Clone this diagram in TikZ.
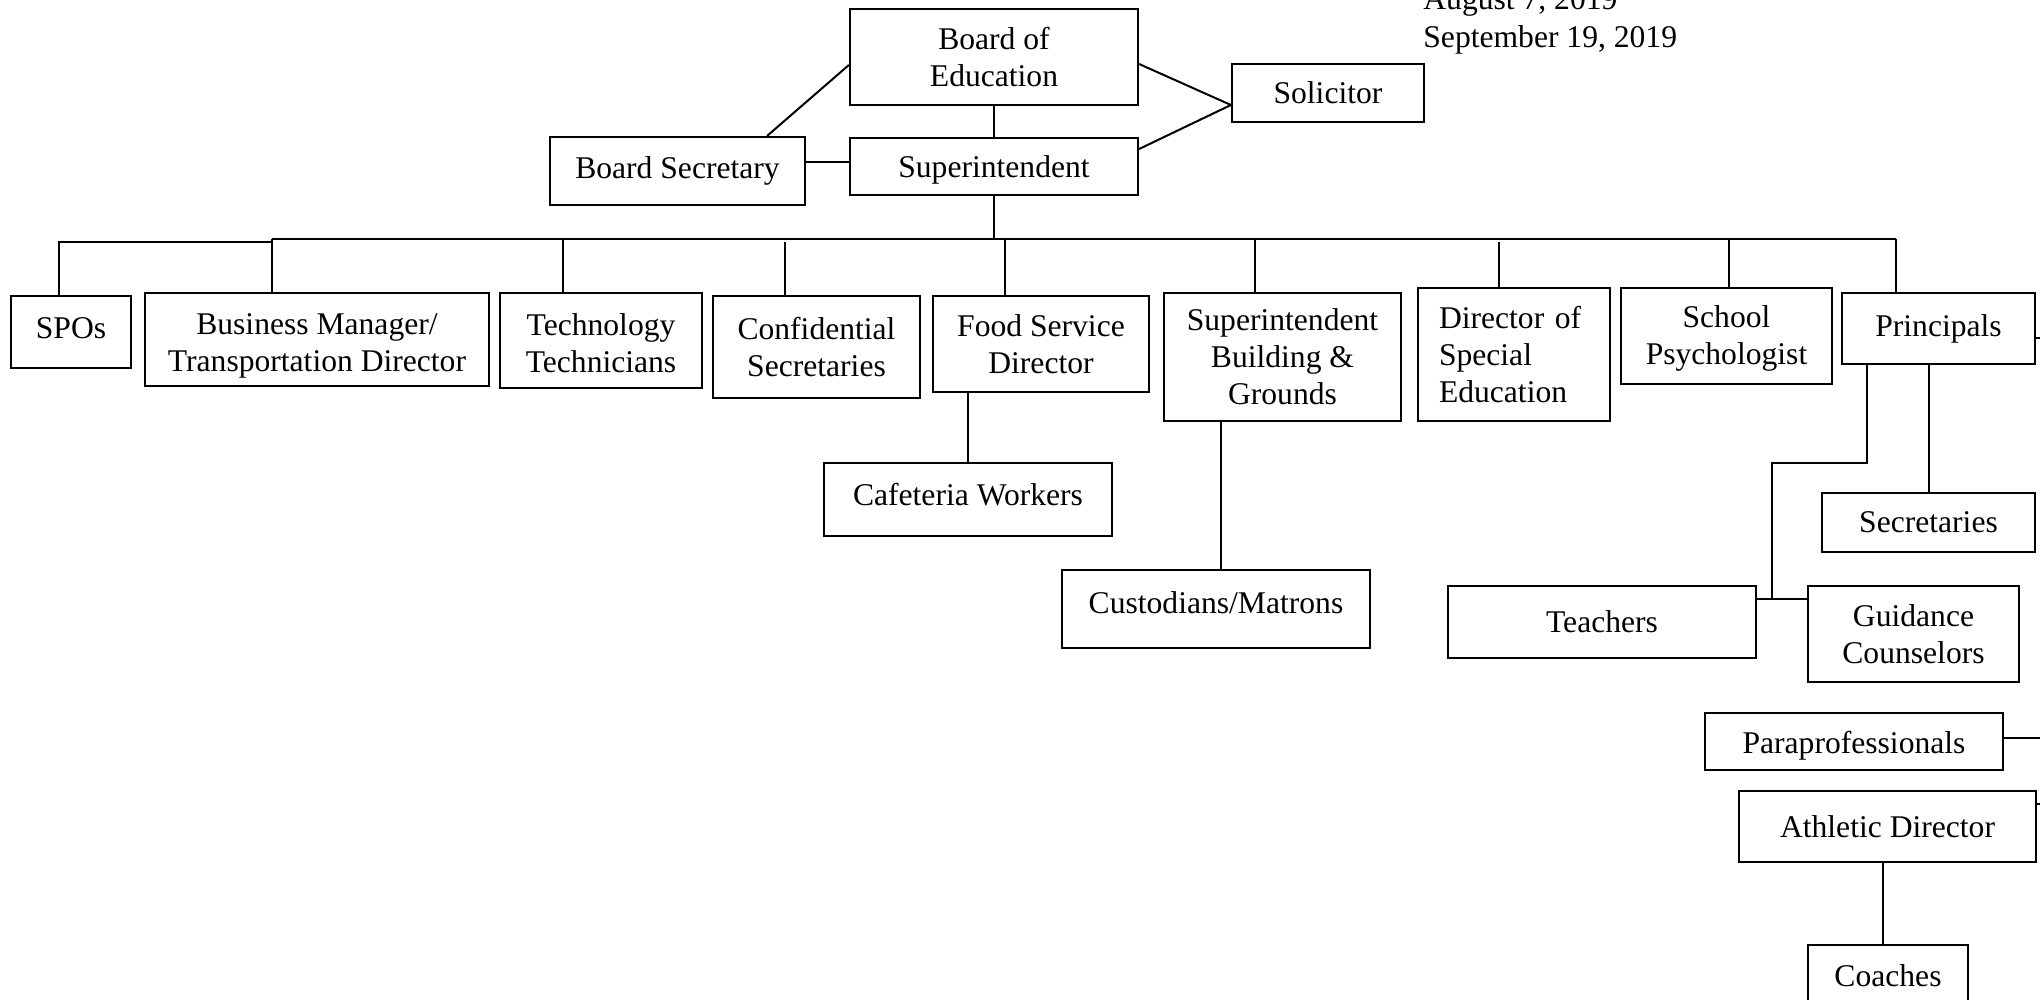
\documentclass[tikz,border=0pt]{standalone}
\usepackage{fontspec}
\setmainfont{Liberation Serif}
\begin{document}
\begin{tikzpicture}[x=0.5pt,y=-0.5pt,
  every node/.style={font=\fontsize{15.8}{18.5}\selectfont},
  box/.style={draw,line width=1.1pt,inner sep=2pt,align=center},
  link/.style={line width=1pt}]
  \useasboundingbox (0,0) rectangle (2040,1000);
  \clip (0,0) rectangle (2040,1000);
  % dates
  \node[anchor=base west,inner sep=0pt] (date1) at (1423,10) {August 7, 2019};
  \node[anchor=base west,inner sep=0pt] (date2) at (1423,48) {September 19, 2019};
  % top
  \node[box,minimum width=144pt,minimum height=48pt] (boe) at (994,57) {Board of\\Education};
  \node[box,minimum width=96pt,minimum height=29pt] (sol) at (1328,93) {Solicitor};
  \node[box,minimum width=127.5pt,minimum height=34pt] (bsec) at (677.5,171) {Board Secretary};
  \node[box,minimum width=144pt,minimum height=28.5pt] (supt) at (994,166.5) {\rule{0pt}{14.7pt}Superintendent};
  % second row
  \node[box,minimum width=60pt,minimum height=36pt] (spo) at (71,332) {\rule[-3.9pt]{0pt}{3.9pt}SPOs};
  \node[box,minimum width=172pt,minimum height=46.5pt] (bus) at (317,339.5) {\rule{0pt}{17pt}Business Manager/\\Transportation Director};
  \node[box,minimum width=101pt,minimum height=47.5pt] (tech) at (601,340.5) {\rule{0pt}{13.3pt}Technology\\Technicians};
  \node[box,minimum width=103.5pt,minimum height=51pt] (conf) at (816.5,347) {Confidential\\Secretaries};
  \node[box,minimum width=108pt,minimum height=48pt] (food) at (1041,344) {Food Service\\Director};
  \node[box,minimum width=118.5pt,minimum height=64pt] (sbg) at (1282.5,357) {Superintendent\\Building \&\\Grounds};
  \node[box,align=left,inner xsep=10.5pt,text width=75pt,minimum height=66.5pt] (dse) at (1514,354.5) {Director of\\Special\\Education};
  \node[box,minimum width=105.5pt,minimum height=48pt] (psy) at (1726.5,336) {\rule{0pt}{13.3pt}School\\Psychologist};
  \node[box,minimum width=96.5pt,minimum height=35.5pt] (prin) at (1938.5,328.5) {Principals};
  % lower boxes
  \node[box,minimum width=144pt,minimum height=36.5pt] (caf) at (968,499.5) {\rule[-5.2pt]{0pt}{5.2pt}Cafeteria Workers};
  \node[box,minimum width=154pt,minimum height=39pt] (cust) at (1216,609) {\rule[-6.5pt]{0pt}{6.5pt}Custodians/Matrons};
  \node[box,minimum width=106.5pt,minimum height=29.5pt] (sec) at (1928.5,522.5) {Secretaries};
  \node[box,minimum width=154pt,minimum height=36pt] (tea) at (1602,622) {Teachers};
  \node[box,minimum width=105.5pt,minimum height=48pt] (gui) at (1913.5,634) {Guidance\\Counselors};
  \node[box,minimum width=149pt,minimum height=28.5pt] (para) at (1854,741.5) {\rule{0pt}{15.7pt}Paraprofessionals};
  \node[box,minimum width=148.5pt,minimum height=35.5pt] (ath) at (1887.5,826.5) {Athletic Director};
  \node[box,minimum width=80pt,minimum height=31pt] (coa) at (1888,976) {Coaches};
  % junctions
  \coordinate (busL) at (272,239);
  \coordinate (busR) at (1896,239);
  \coordinate (busG) at (272,242);
  \coordinate (tgJ) at (1772,599);
  % connectors
  \draw[link] (boe.south) -- (supt.north);
  \draw[link] ([xshift=-19.5pt]bsec.north east) -- ([yshift=-4pt]boe.west);
  \draw[link] ([yshift=4.5pt]bsec.east) -- ([yshift=2.25pt]supt.west);
  \draw[link] ([yshift=-3.5pt]boe.east) -- ([yshift=-6pt]sol.west) -- ([yshift=8.75pt]supt.east);
  \draw[link] (supt.south) -- (supt.south |- busL);
  \draw[link] (busL) -- (busR);
  \draw[link] ([xshift=-6pt]spo.north) |- (busG);
  \foreach \n/\x/\t in {bus/272/busL, tech/563/busL, conf/785/busG, food/1005/busL,
                        sbg/1255/busL, dse/1499/busG, psy/1729/busL, prin/1896/busL}
    \draw[link] (\t -| \x,0) -- (\n.north -| \x,0);
  \draw[link] (caf.north) -- (caf.north |- food.south);
  \draw[link] (sbg.south -| 1221,0) -- (cust.north -| 1221,0);
  \draw[link] (prin.south -| 1867,0) -- (1867,463) -| (tgJ);
  \draw[link] (tea.east |- tgJ) -- (gui.west |- tgJ);
  \draw[link] (sec.north) -- (sec.north |- prin.south);
  \draw[link] ([yshift=-4.75pt]prin.east) -- ++(20,0);
  \draw[link] ([yshift=1.75pt]para.east) -- ++(60,0);
  \draw[link] ([yshift=11.25pt]ath.east) -- ++(20,0);
  \draw[link] (ath.south -| 1883,0) -- (coa.north -| 1883,0);
\end{tikzpicture}
\end{document}
